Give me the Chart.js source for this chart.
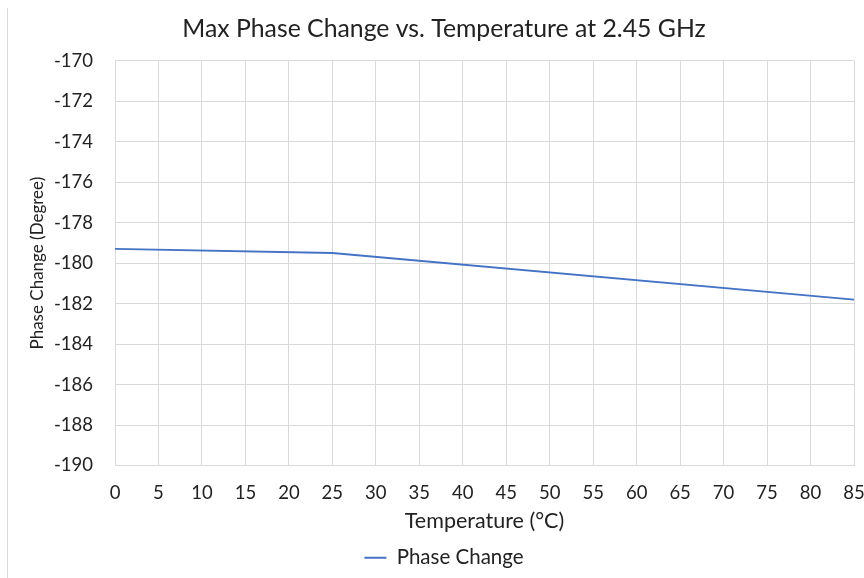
<!DOCTYPE html>
<html>
<head>
<meta charset="utf-8">
<script src="https://cdn.jsdelivr.net/npm/chart.js@4"></script>
<style>
  html, body { margin: 0; padding: 0; background: #fff; }
  #wrap { position: relative; width: 864px; height: 578px; }
  #edge { position: absolute; left: 7px; top: 8px; width: 1px; height: 570px; background: #d9d9d9; }
</style>
</head>
<body>
<div id="wrap">
  <div id="edge"></div>
  <canvas id="chart" width="864" height="578"></canvas>
</div>
<script>
// Data
const temperatures = [0, 25, 85];
const phaseChange = [-179.3, -179.5, -181.8];

const titleText = 'Max Phase Change vs. Temperature at 2.45 GHz';
const xTitle = 'Temperature (°C)';
const yTitle = 'Phase Change (Degree)';
const seriesLabel = 'Phase Change';

const fontFamily = 'Lato, "Open Sans", sans-serif';
const textColor = '#222';
const gridColor = '#d9d9d9';
const lineColor = '#4472C4';

const ctx = document.getElementById('chart').getContext('2d');

new Chart(ctx, {
  type: 'line',
  data: {
    datasets: [{
      label: seriesLabel,
      data: temperatures.map((t, i) => ({ x: t, y: phaseChange[i] })),
      borderColor: lineColor,
      backgroundColor: lineColor,
      borderWidth: 1.8,
      pointRadius: 0,
      pointStyle: 'line',
      tension: 0,
      fill: false
    }]
  },
  options: {
    responsive: false,
    animation: false,
    layout: { padding: { left: 27, right: 3, top: 6, bottom: 0 } },
    plugins: {
      title: {
        display: true,
        text: titleText,
        color: textColor,
        font: { family: fontFamily, size: 24.8, weight: 'normal' },
        padding: { top: 8, bottom: 17 }
      },
      legend: {
        position: 'bottom',
        labels: {
          color: textColor,
          font: { family: fontFamily, size: 20.5 },
          usePointStyle: true,
          pointStyleWidth: 22,
          boxWidth: 20,
          boxHeight: 18,
          padding: 6
        }
      },
      tooltip: { enabled: false }
    },
    scales: {
      x: {
        type: 'linear',
        min: 0,
        max: 85,
        // keep the axis box tight and the last label's overhang small
        afterFit: scale => { scale.height = 76; scale.paddingRight = 10; },
        grid: { color: gridColor, drawTicks: false },
        border: { color: gridColor },
        ticks: {
          stepSize: 5,
          maxRotation: 0,
          color: textColor,
          padding: 16,
          font: { family: fontFamily, size: 18.5 }
        },
        title: {
          display: true,
          text: xTitle,
          color: textColor,
          font: { family: fontFamily, size: 21.5 },
          padding: { top: 7, bottom: 8 }
        }
      },
      y: {
        min: -190,
        max: -170,
        afterFit: scale => { scale.width = 88; },
        grid: { color: gridColor, drawTicks: false },
        border: { color: gridColor },
        ticks: {
          stepSize: 2,
          color: textColor,
          padding: 22,
          font: { family: fontFamily, size: 18.5 }
        },
        title: {
          display: true,
          text: yTitle,
          color: textColor,
          font: { family: fontFamily, size: 17 },
          padding: { top: 0, bottom: 0 }
        }
      }
    }
  }
});
</script>
</body>
</html>
